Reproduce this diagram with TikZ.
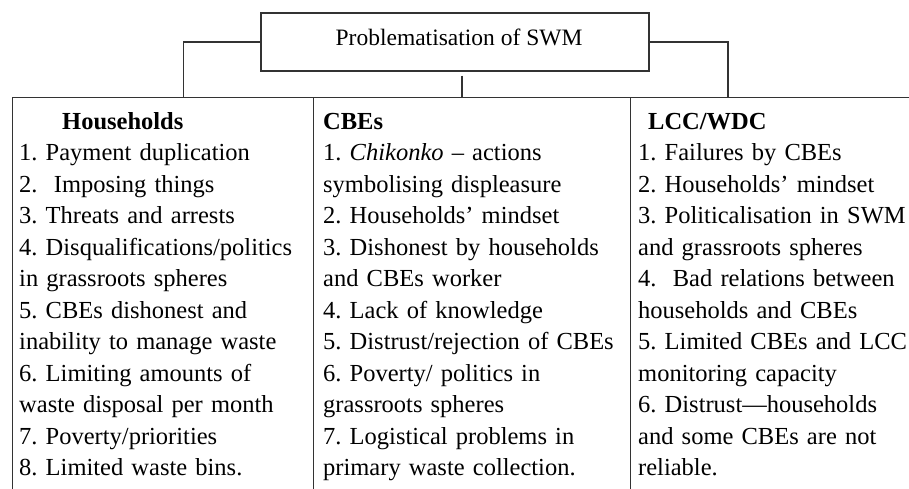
\documentclass[tikz,border=0pt]{standalone}
\usepackage{fontspec}
\setmainfont{Liberation Serif}
\usepackage{tikz}
\usetikzlibrary{calc}

\begin{document}
\begin{tikzpicture}[x=1pt,y=-1pt,
    box/.style={draw=black!80, line width=1.2pt, inner sep=0pt},
    cell/.style={box, anchor=north west, minimum height=420pt},
    list/.style={anchor=base west, inner sep=0pt, text width=300pt, align=left,
        font=\fontsize{24.5}{31.5}\selectfont\frenchspacing},
    link/.style={draw=black!80, line width=1.2pt}]

    \useasboundingbox (0,0) rectangle (909,488);
    \clip (0,0) rectangle (909,488);

    % title box
    \node[box, minimum width=388pt, text height=32pt, text depth=26pt,
        font=\fontsize{23.5}{28}\selectfont] (title) at (455,42) {\hspace*{8pt}Problematisation of SWM};

    % the three columns of the table
    \node[cell, minimum width=301pt] (hh) at (12,97) {};
    \node[cell, minimum width=317pt] (cbe) at (313,97) {};
    \node[cell, minimum width=320pt] (lcc) at (630,97) {};

    % links from the title down to the table
    \coordinate (midtop) at ($(title.south)+(7,4)$);
    \draw[link] (title.west) -| ($(hh.north)+(20,0)$);
    \draw[link] (title.east) -| ($(lcc.north west)+(98,0)$);
    \draw[link] (midtop) -- (midtop |- cbe.north);

    \node[list] (hhlist) at (19,129) {\hspace*{43pt}\textbf{Households}\\
        1. Payment duplication\\
        2.\ \ Imposing things\\
        3. Threats and arrests\\
        4. Disqualifications/politics\\
        in grassroots spheres\\
        5. CBEs dishonest and\\
        inability to manage waste\\
        6. Limiting amounts of\\
        waste disposal per month\\
        7. Poverty/priorities\\
        8. Limited waste bins.};

    \node[list] (cbelist) at (323,129) {\textbf{CBEs}\\
        1. \textit{Chikonko} -- actions\\
        symbolising displeasure\\
        2. Households’ mindset\\
        3. Dishonest by households\\
        and CBEs worker\\
        4. Lack of knowledge\\
        5. Distrust/rejection of CBEs\\
        6. Poverty/ politics in\\
        grassroots spheres\\
        7. Logistical problems in\\
        primary waste collection.};

    \node[list] (lcclist) at (638,129) {\hspace*{10pt}\textbf{LCC/WDC}\\
        1. Failures by CBEs\\
        2. Households’ mindset\\
        3. Politicalisation in SWM\\
        and grassroots spheres\\
        4.\ \ Bad relations between\\
        households and CBEs\\
        5. Limited CBEs and LCC\\
        monitoring capacity\\
        6. Distrust---households\\
        and some CBEs are not\\
        reliable.};

\end{tikzpicture}
\end{document}
